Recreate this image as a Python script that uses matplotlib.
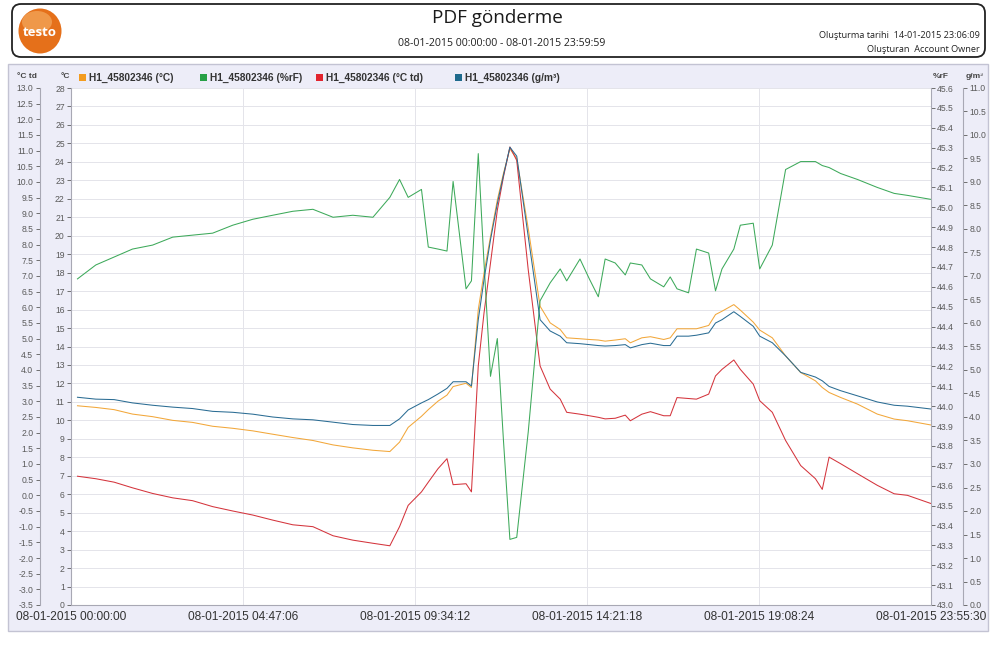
import matplotlib
matplotlib.use('Agg')
import matplotlib.pyplot as plt
from matplotlib.patches import Rectangle, FancyBboxPatch, Ellipse
from matplotlib.transforms import IdentityTransform
import numpy as np

W, H = 990, 653

# ---------------- data ----------------
hours = [0.18, 0.69, 1.20, 1.71, 2.27, 2.83, 3.38, 3.94, 4.50, 5.06, 5.61, 6.17, 6.73,
         7.29, 7.84, 8.40, 8.87, 9.14, 9.38, 9.75, 9.94, 10.21, 10.46, 10.63, 10.99, 11.14,
         11.33, 11.49, 11.67, 11.86, 12.03, 12.21, 12.40, 12.72, 13.05, 13.33,
         13.61, 13.79, 14.16, 14.42, 14.67, 14.86, 15.14, 15.42, 15.56, 15.88,
         16.12, 16.49, 16.67, 16.86, 17.18, 17.40, 17.74, 17.93, 18.11, 18.44,
         18.62, 18.98, 19.16, 19.51, 19.88, 20.30, 20.71, 20.90, 21.09, 21.41,
         21.88, 22.43, 22.90, 23.27, 23.92]

temp_c = [10.79, 10.70, 10.58, 10.34, 10.20, 10.00, 9.89, 9.68, 9.57, 9.43, 9.25, 9.07, 8.91,
          8.67, 8.51, 8.38, 8.31, 8.82, 9.62, 10.22, 10.58, 11.04, 11.37, 11.83, 12.01, 11.78,
          16.00, 17.98, 19.95, 21.93, 23.37, 24.71, 24.17, 20.40, 16.18, 15.28,
          14.92, 14.47, 14.42, 14.38, 14.35, 14.29, 14.35, 14.42, 14.20, 14.47,
          14.53, 14.38, 14.47, 14.96, 14.96, 14.96, 15.14, 15.73, 15.91, 16.27,
          15.97, 15.32, 14.89, 14.47, 13.49, 12.59, 12.14, 11.78, 11.51, 11.24,
          10.88, 10.34, 10.07, 9.98, 9.75]

rel_hum = [44.64, 44.71, 44.75, 44.79, 44.81, 44.85, 44.86, 44.87, 44.91, 44.94, 44.96, 44.98, 44.99,
           44.95, 44.96, 44.95, 45.05, 45.14, 45.05, 45.09, 44.80, 44.79, 44.78, 45.13, 44.59, 44.63,
           45.27, 44.72, 44.15, 44.34, 43.83, 43.33, 43.34, 43.87, 44.53, 44.62,
           44.69, 44.63, 44.74, 44.64, 44.55, 44.74, 44.72, 44.66, 44.72, 44.71,
           44.64, 44.60, 44.65, 44.59, 44.57, 44.79, 44.77, 44.58, 44.69, 44.79,
           44.91, 44.92, 44.69, 44.81, 45.19, 45.23, 45.23, 45.21, 45.20, 45.17,
           45.14, 45.10, 45.07, 45.06, 45.04]

dew_td = [0.61, 0.53, 0.42, 0.24, 0.06, -0.08, -0.17, -0.36, -0.50, -0.63, -0.79, -0.94, -1.00,
          -1.29, -1.43, -1.53, -1.61, -1.00, -0.32, 0.11, 0.42, 0.85, 1.17, 0.34, 0.37, 0.11,
          4.13, 5.82, 7.41, 9.10, 10.16, 11.12, 10.69, 7.20, 4.13, 3.39,
          3.07, 2.65, 2.59, 2.54, 2.49, 2.44, 2.46, 2.56, 2.38, 2.59,
          2.67, 2.54, 2.54, 3.12, 3.09, 3.07, 3.23, 3.81, 4.02, 4.32,
          4.02, 3.55, 3.02, 2.65, 1.75, 0.95, 0.53, 0.19, 1.22, 1.01,
          0.69, 0.32, 0.05, 0.00, -0.26]

abs_hum = [4.42, 4.38, 4.37, 4.30, 4.25, 4.21, 4.18, 4.12, 4.10, 4.06, 4.00, 3.96, 3.94,
           3.89, 3.84, 3.82, 3.82, 3.96, 4.15, 4.30, 4.37, 4.49, 4.61, 4.75, 4.75, 4.66,
           6.07, 6.92, 7.77, 8.54, 9.14, 9.74, 9.55, 7.84, 6.07, 5.83,
           5.72, 5.58, 5.56, 5.54, 5.52, 5.51, 5.52, 5.54, 5.47, 5.54,
           5.57, 5.52, 5.52, 5.72, 5.72, 5.74, 5.79, 6.00, 6.07, 6.24,
           6.14, 5.93, 5.72, 5.58, 5.30, 4.95, 4.85, 4.77, 4.65, 4.56,
           4.45, 4.32, 4.25, 4.23, 4.17]

x_tick_hours = [0.0, 4.785, 9.57, 14.355, 19.14, 23.925]
x_tick_labels = ['08-01-2015 00:00:00', '08-01-2015 04:47:06', '08-01-2015 09:34:12',
                 '08-01-2015 14:21:18', '08-01-2015 19:08:24', '08-01-2015 23:55:30']

series_labels = ['H1_45802346 (°C)', 'H1_45802346 (%rF)', 'H1_45802346 (°C td)', 'H1_45802346 (g/m³)']
axis_units = ['°C td', '°C', '%rF', 'g/m³']

title = 'PDF gönderme'
subtitle = '08-01-2015 00:00:00 - 08-01-2015 23:59:59'
created_on = 'Oluşturma tarihi  14-01-2015 23:06:09'
created_by = 'Oluşturan  Account Owner'

# ---------------- style ----------------
line_colors = ['#F2A73A', '#3DA95A', '#D4343C', '#2A6C93']
box_colors = ['#F39C1F', '#27A046', '#E2242E', '#1E6A8D']
tick_col = '#5A5A5A'
spine_col = '#A8A8B4'

plt.rcParams['font.family'] = ['Liberation Sans', 'DejaVu Sans']
plt.rcParams['axes.unicode_minus'] = False

fig = plt.figure(figsize=(W / 100, H / 100), dpi=100)
fig.patch.set_facecolor('white')
ID = IdentityTransform()


def P(x, y):
    return (x, H - y)


def F(x, y):
    return (x / W, 1 - y / H)


# chart panel
panel = Rectangle(P(8, 631), 980, 567, transform=ID, fc='#EDEDF8', ec='#C3C3D3', lw=1.0, zorder=-2)
fig.add_artist(panel)

# header box
hdr = FancyBboxPatch(P(12, 57), 973, 53, boxstyle='round,pad=0,rounding_size=9',
                     transform=ID, fc='white', ec='#222222', lw=1.3, zorder=1)
fig.add_artist(hdr)
fig.add_artist(Ellipse(P(40, 31), 43, 45, transform=ID, fc='#E5701A', ec='none', zorder=2))
fig.add_artist(Ellipse(P(37, 22), 30, 22, transform=ID, fc='#F7B36A', ec='none', alpha=0.6, zorder=2))
fig.text(*F(40, 32), 'testo', color='white', fontsize=9.5, fontweight='bold',
         ha='center', va='center', family=['Open Sans', 'DejaVu Sans'], zorder=3)
fig.text(*F(497, 18), title, fontsize=13.6, ha='center', va='center', color='#1a1a1a',
         family=['Open Sans', 'DejaVu Sans'], zorder=3)
fig.text(*F(502, 44), subtitle, fontsize=7.6, ha='center', va='center', color='#222222',
         family=['Open Sans', 'DejaVu Sans'], zorder=3)
fig.text(*F(980, 35), created_on, fontsize=6.6, ha='right', va='center', color='#222222',
         family=['Open Sans', 'DejaVu Sans'], zorder=3)
fig.text(*F(980, 50), created_by, fontsize=6.6, ha='right', va='center', color='#222222',
         family=['Open Sans', 'DejaVu Sans'], zorder=3)

# ---------------- axes ----------------
L, R, T, B = 71, 931, 88, 605
ax = fig.add_axes([L / W, 1 - B / H, (R - L) / W, (B - T) / H])
ax.set_facecolor('white')
ax.set_xlim(x_tick_hours[0], x_tick_hours[-1])
ax.set_ylim(0, 28)
ax.set_yticks(np.arange(0, 29, 1))
ax.set_yticklabels([f'{v:d}' for v in range(0, 29)])
ax.set_xticks(x_tick_hours)
ax.set_xticklabels(x_tick_labels)
ax.grid(True, color='#E4E4EA', lw=0.7)
ax.set_axisbelow(True)
for s in ['top', 'right']:
    ax.spines[s].set_visible(False)
for s in ['left', 'bottom']:
    ax.spines[s].set_color(spine_col)
    ax.spines[s].set_linewidth(0.8)
ax.tick_params(axis='y', labelsize=6.2, colors=tick_col, length=3, width=0.6, pad=1.5)
ax.tick_params(axis='x', labelsize=8.6, colors='#333333', length=0, pad=4)

ax_td = ax.twinx()
ax_td.set_ylim(-3.5, 13.0)
td_ticks = np.round(np.arange(-3.5, 13.01, 0.5), 1)
ax_td.set_yticks(td_ticks)
ax_td.set_yticklabels([f'{v:.1f}' for v in td_ticks])
ax_td.yaxis.set_ticks_position('left')
ax_td.spines['left'].set_position(('axes', (39.5 - L) / (R - L)))
ax_td.spines['left'].set_visible(True)
for s in ['right', 'top', 'bottom']:
    ax_td.spines[s].set_visible(False)

ax_rf = ax.twinx()
ax_rf.set_ylim(43.0, 45.6)
rf_ticks = np.round(np.arange(43.0, 45.61, 0.1), 1)
ax_rf.set_yticks(rf_ticks)
ax_rf.set_yticklabels([f'{v:.1f}' for v in rf_ticks])
for s in ['left', 'top', 'bottom']:
    ax_rf.spines[s].set_visible(False)

ax_g = ax.twinx()
ax_g.set_ylim(0.0, 11.0)
g_ticks = np.round(np.arange(0.0, 11.01, 0.5), 1)
ax_g.set_yticks(g_ticks)
ax_g.set_yticklabels([f'{v:.1f}' for v in g_ticks])
ax_g.spines['right'].set_position(('axes', (963 - L) / (R - L)))
for s in ['left', 'top', 'bottom']:
    ax_g.spines[s].set_visible(False)

for a, s in [(ax_td, 'left'), (ax_rf, 'right'), (ax_g, 'right')]:
    a.spines[s].set_color(spine_col)
    a.spines[s].set_linewidth(0.8)
    a.tick_params(axis='y', labelsize=6.2, colors=tick_col, length=3, width=0.6, pad=1.5)

# lines
ax.plot(hours, temp_c, color=line_colors[0], lw=0.75)
ax_rf.plot(hours, rel_hum, color=line_colors[1], lw=0.75)
ax_td.plot(hours, dew_td, color=line_colors[2], lw=0.75)
ax_g.plot(hours, abs_hum, color=line_colors[3], lw=0.75)

# legend row
leg_x = [79, 200, 316, 455]
for x0, lab, col in zip(leg_x, series_labels, box_colors):
    fig.add_artist(Rectangle(P(x0, 81), 7, 7, transform=ID, fc=col, ec='none', zorder=3))
    fig.text(*F(x0 + 10, 77.5), lab, fontsize=7.3, fontweight='bold', color='#333333',
             ha='left', va='center', zorder=3)

unit_pos = [27, 65, 941, 975]
for ux, u in zip(unit_pos, axis_units):
    fig.text(*F(ux, 76), u, fontsize=6.0, fontweight='bold', color='#444444',
             ha='center', va='center', zorder=3)

fig.savefig('out.png', dpi=100, facecolor='white')
